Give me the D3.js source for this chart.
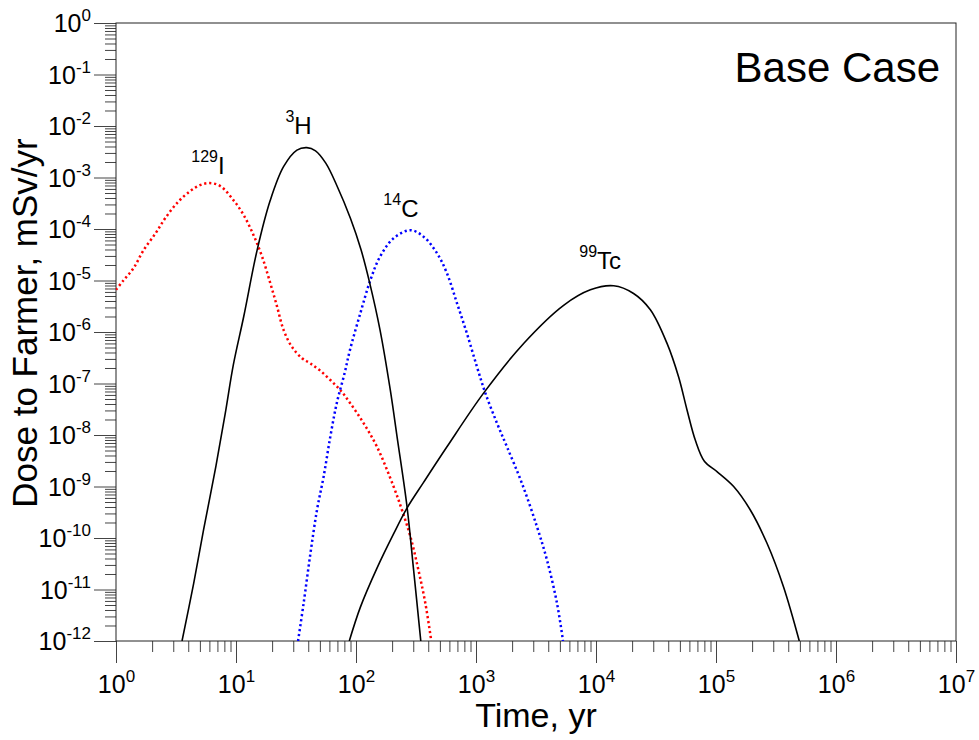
<!DOCTYPE html>
<html>
<head>
<meta charset="utf-8">
<script src="https://cdn.jsdelivr.net/npm/d3@7"></script>
<style>
  body { margin: 0; background: #fff; }
  text { font-family: "Liberation Sans", Arial, sans-serif; fill: #000; }
</style>
</head>
<body>
<div id="container"></div>
<script>
// axis decades (powers of ten)
const xExponents = [0, 1, 2, 3, 4, 5, 6, 7];
const yExponents = [0, -1, -2, -3, -4, -5, -6, -7, -8, -9, -10, -11, -12];

// dose curves, [time yr, dose mSv/yr]
const iodine129 = [
  [1.0, 6.6e-6], [1.16, 1.02e-5], [1.40, 1.74e-5], [1.70, 3.9e-5], [2.14, 8.3e-5],
  [2.57, 1.62e-4], [3.31, 3.4e-4], [4.17, 5.5e-4], [5.01, 7.1e-4], [6.03, 7.8e-4],
  [7.41, 6.8e-4], [9.55, 3.6e-4], [11.6, 1.86e-4], [14.0, 7.6e-5], [16.5, 2.9e-5],
  [19.3, 8.9e-6], [22.0, 3.1e-6], [24.9, 1.1e-6], [29.3, 5.1e-7], [35.5, 3.1e-7],
  [41.7, 2.45e-7], [50, 1.8e-7], [61.1, 1.17e-7], [74.1, 7.4e-8], [89.1, 4.2e-8],
  [115.6, 1.7e-8], [149.6, 5.9e-9], [205.6, 1.0e-9], [241.5, 3.5e-10],
  [283.8, 1.07e-10], [331.1, 2.4e-11], [378.4, 5.4e-12], [424, 1e-12]
];
const tritium = [
  [3.55, 1e-12], [4.44, 1.32e-11], [5.37, 1.45e-10], [6.71, 2.1e-9], [8.13, 2.6e-8],
  [9.5, 2.3e-7], [11.6, 2.0e-6], [15.0, 3.9e-5], [19.3, 3.6e-4], [24.9, 1.62e-3],
  [32.2, 3.4e-3], [38.9, 3.8e-3], [46, 3.3e-3], [56, 1.9e-3], [69.2, 7.0e-4], [90, 1.6e-4],
  [110, 4.0e-5], [130, 9e-6], [158.5, 1.1e-6], [193.2, 7.4e-8], [219.8, 9.3e-9],
  [266, 4.1e-10], [302, 2.4e-11], [346.7, 1e-12]
];
const carbon14 = [
  [32.9, 1e-12], [36.6, 5.4e-12], [41.7, 5e-11], [47.3, 3.5e-10], [53.7, 1.55e-9],
  [61.1, 9.3e-9], [69.2, 4.2e-8], [80.4, 1.6e-7], [89.1, 4.5e-7], [108.6, 2.3e-6],
  [131.8, 1.02e-5], [158.5, 2.9e-5], [205.6, 6.6e-5], [283.8, 9.5e-5], [365.6, 7.1e-5],
  [473, 3.4e-5], [572.8, 1.38e-5], [695, 3.6e-6], [841, 9.3e-7], [1019, 2.1e-7],
  [1197, 6.5e-8], [1496, 1.7e-8], [1811, 5.9e-9], [2415, 1.15e-9], [3221, 1.66e-10],
  [3908, 3.7e-11], [4732, 5.4e-12], [5309, 1e-12]
];
const technetium99 = [
  [87.9, 1e-12], [108.6, 4.5e-12], [149.6, 2.6e-11], [205.6, 1.2e-10], [266, 3.8e-10],
  [365.6, 1.2e-9], [572.8, 5.9e-9], [1156, 6.5e-8], [2495, 6e-7], [5370, 3.3e-6],
  [8974, 6.6e-6], [14030, 7.9e-6], [20560, 5.6e-6], [28380, 2.7e-6], [39080, 6e-7],
  [48750, 1.35e-7], [57280, 3.1e-8], [67300, 7.9e-9], [80000, 3.1e-9], [101860, 1.95e-9],
  [140300, 1.0e-9], [193200, 3.5e-10], [266100, 7.9e-11], [365600, 1.12e-11], [494300, 1e-12]
];

const seriesNames = ["129", "3", "14", "99"];
const seriesElems = ["I", "H", "C", "Tc"];

const margin = {top: 23, right: 23, bottom: 99, left: 116},
  width = 979 - margin.left - margin.right,
  height = 740 - margin.top - margin.bottom;

const svg = d3.select("#container")
  .append("svg")
  .attr("width", 979)
  .attr("height", 740)
  .append("g")
  .attr("transform", `translate(${margin.left},${margin.top})`);

const x = d3.scaleLog().domain([1, 1e7]).range([0, width]);
const y = d3.scaleLog().domain([1e-12, 1]).range([height, 0]);

const xMajor = xExponents.map(e => Math.pow(10, e));
const yMajor = yExponents.map(e => Math.pow(10, e));
const xMinor = [];
xExponents.slice(0, -1).forEach(e => { for (let k = 2; k < 10; k++) xMinor.push(k * Math.pow(10, e)); });
const yMinor = [];
yExponents.slice(1).forEach(e => { for (let k = 2; k < 10; k++) yMinor.push(k * Math.pow(10, e)); });

const tickColor = "#444";

// minor ticks
svg.append("g")
  .attr("transform", `translate(0,${height})`)
  .call(d3.axisBottom(x).tickValues(xMinor).tickSize(11).tickSizeOuter(0).tickFormat(""))
  .call(g => g.select(".domain").remove());
svg.append("g")
  .call(d3.axisLeft(y).tickValues(yMinor).tickSize(11).tickSizeOuter(0).tickFormat(""))
  .call(g => g.select(".domain").remove());

// major ticks with 10^n labels
const xAxis = svg.append("g")
  .attr("transform", `translate(0,${height})`)
  .call(d3.axisBottom(x).tickValues(xMajor).tickSize(22).tickSizeOuter(0).tickFormat(""))
  .call(g => g.select(".domain").remove());
xAxis.selectAll(".tick").each(function(d, i) {
  const t = d3.select(this).select("text")
    .attr("y", 52).attr("dy", null)
    .style("font-size", "25px").attr("fill", "#000")
    .attr("text-anchor", "middle");
  t.append("tspan").text("10");
  t.append("tspan").attr("dy", -11).style("font-size", "17px").text(xExponents[i]);
});

const yAxis = svg.append("g")
  .call(d3.axisLeft(y).tickValues(yMajor).tickSize(22).tickSizeOuter(0).tickFormat(""))
  .call(g => g.select(".domain").remove());
yAxis.selectAll(".tick").each(function(d, i) {
  const t = d3.select(this).select("text")
    .attr("x", -25).attr("dy", 8.5)
    .style("font-size", "25px").attr("fill", "#000")
    .attr("text-anchor", "end");
  t.append("tspan").text("10");
  t.append("tspan").attr("dy", -11).style("font-size", "17px").text(yExponents[i]);
});

svg.selectAll(".tick line").attr("stroke", tickColor);

// frame
svg.append("rect")
  .attr("width", width)
  .attr("height", height)
  .attr("fill", "none")
  .attr("stroke", "#222")
  .attr("stroke-width", 1);

svg.append("clipPath").attr("id", "plotclip")
  .append("rect").attr("width", width).attr("height", height);

const line = d3.line()
  .x(d => x(d[0]))
  .y(d => y(d[1]))
  .curve(d3.curveCatmullRom.alpha(0.5));

const plot = svg.append("g").attr("clip-path", "url(#plotclip)");

plot.append("path").datum(iodine129)
  .attr("fill", "none").attr("stroke", "#ff0000")
  .attr("stroke-width", 2.5).attr("stroke-dasharray", "2.2,2.8")
  .attr("d", line);
plot.append("path").datum(carbon14)
  .attr("fill", "none").attr("stroke", "#0000ff")
  .attr("stroke-width", 2.5).attr("stroke-dasharray", "2.2,2.8")
  .attr("d", line);
plot.append("path").datum(tritium)
  .attr("fill", "none").attr("stroke", "#000")
  .attr("stroke-width", 1.6)
  .attr("d", line);
plot.append("path").datum(technetium99)
  .attr("fill", "none").attr("stroke", "#000")
  .attr("stroke-width", 1.6)
  .attr("d", line);

// nuclide labels, anchored in data space
const labelSpots = [[4.24, 1.17e-3], [25.8, 7.0e-3], [169, 1.71e-4], [7260, 1.67e-5]];
labelSpots.forEach((p, i) => {
  const t = svg.append("text")
    .attr("x", x(p[0]))
    .attr("y", y(p[1]))
    .style("font-size", "24px");
  t.append("tspan").attr("dy", -12).style("font-size", "16px").text(seriesNames[i]);
  t.append("tspan").attr("dy", 12).text(seriesElems[i]);
});

svg.append("text")
  .attr("x", width - 16)
  .attr("y", 59)
  .attr("text-anchor", "end")
  .style("font-size", "42px")
  .text("Base Case");

svg.append("text")
  .attr("x", width / 2)
  .attr("y", height + 86)
  .attr("text-anchor", "middle")
  .style("font-size", "34px")
  .text("Time, yr");

svg
  .append("text")
  .attr("transform", "rotate(-90)")
  .attr("x", 0 - 300)
  .attr("y", 37 - margin.left)
  .attr("text-anchor", "middle")
  .style("font-size", "35px")
  .text("Dose to Farmer, mSv/yr");
</script>
</body>
</html>
